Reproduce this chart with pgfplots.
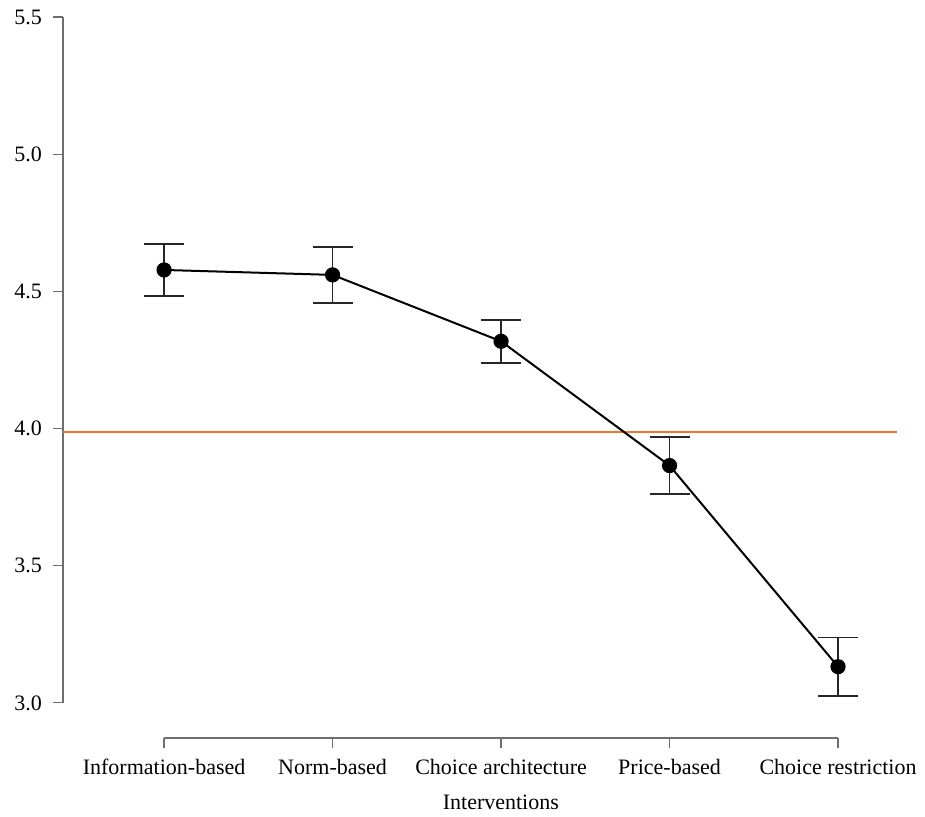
\documentclass[border=0pt]{standalone}
\usepackage{pgfplots}
\pgfplotsset{compat=1.18}
\usepackage{fontspec}
\setmainfont{Liberation Serif}
\definecolor{refline}{RGB}{240,120,40}
\definecolor{axgray}{RGB}{110,110,110}
\begin{document}
\begin{tikzpicture}
\begin{axis}[
  scale only axis,
  width=417pt, height=360.5pt,
  xmin=-0.6, xmax=4.35,
  ymin=2.872, ymax=5.5,
  axis lines=left,
  axis line style={draw=none,-},
  clip=false,
  xtick={0,1,2,3,4},
  xticklabels={Information-based,Norm-based,Choice architecture,Price-based,Choice restriction},
  ytick={3,3.5,4,4.5,5,5.5},
  yticklabel style={/pgf/number format/fixed,/pgf/number format/fixed zerofill,/pgf/number format/precision=1, xshift=-2pt},
  xticklabel style={yshift=-2pt},
  /pgf/number format/assume math mode=true,
  tick align=outside,
  major tick length=5pt,
  tick style={axgray, line width=0.6pt},
  ticklabel style={font=\fontsize{11}{13}\selectfont},
  xlabel={Interventions},
  xlabel style={font=\fontsize{11}{13}\selectfont, at={(axis description cs:0.525,0)}, anchor=north, yshift=-25pt},
]
\draw[axgray, line width=0.6pt] (axis cs:-0.6,3) -- (axis cs:-0.6,5.5);
\draw[axgray, line width=0.6pt] (axis cs:0,2.872) -- (axis cs:4,2.872);
\addplot[refline, line width=0.7pt, forget plot] coordinates {(-0.6,3.988) (4.35,3.988)};
\addplot[black, line width=1pt, mark=*, mark size=3.3pt,
  error bars/.cd, y dir=both, y explicit,
  error bar style={black!85, line width=0.9pt},
  error mark options={rotate=90, mark size=10pt, black!85, line width=0.9pt}]
  coordinates {
  (0,4.578) +- (0,0.095)
  (1,4.560) +- (0,0.102)
  (2,4.318) +- (0,0.079)
  (3,3.865) +- (0,0.103)
  (4,3.132) +- (0,0.106)
  };
\coordinate (sw) at (rel axis cs:0,0);
\coordinate (ne) at (rel axis cs:1,1);
\end{axis}
\pgfresetboundingbox
\path[use as bounding box] ([xshift=-31.5pt,yshift=-39pt]sw) rectangle ([xshift=14pt,yshift=8.5pt]ne);
\end{tikzpicture}
\end{document}
